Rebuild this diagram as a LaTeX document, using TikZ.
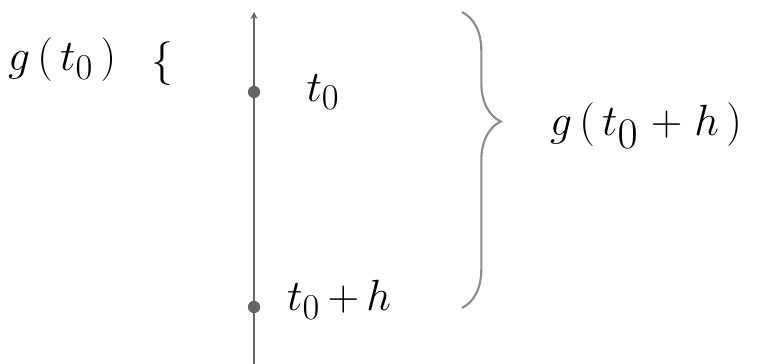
\documentclass[tikz,border=0pt]{standalone}
\usepackage{amsmath,amssymb}
\usepackage{xcolor}
\usepackage{tikz}
\usetikzlibrary{arrows, positioning, decorations.pathreplacing}
\tikzstyle{axis} = [draw=gray!80!black, thick, ->, >=stealth]
\tikzstyle{pt} = [circle, fill=gray!80!black, inner sep=0pt, minimum size=7pt]
\tikzstyle{lbl} = [font=\fontsize{30}{36}\selectfont, inner sep=1pt]
\tikzstyle{curly} = [draw=gray!90, very thick, decorate, decoration={brace, amplitude=22pt, aspect=0.37}]

\begin{document}
\begin{tikzpicture}[x=0.02cm, y=-0.02cm]
    \useasboundingbox (0,0) rectangle (778,364);
    \coordinate (bottom) at (254,364);
    \coordinate (top) at (254,12);
    \node (t0) [pt] at (254,92) {};
    \node (t0h) [pt] at (254,307) {};
    \draw [axis] (bottom) -- (top);
    \node (lt0) [lbl, right=25pt of t0] {$t_0$};
    \node (lt0h) [lbl, right=14pt of t0h, yshift=4pt] {$t_0\,{+}\,h$};
    \node (gleft) [lbl, anchor=west] at (6,60) {$g\,(\,t_0\,)$};
    \node (lbrace) [lbl, font=\fontsize{38}{40}\selectfont, right=18pt of gleft.east, anchor=west, yshift=-2pt] {$\{$};
    \coordinate (btop) at (462,12);
    \coordinate (bbot) at (462,308);
    \draw [curly] (btop) -- (bbot);
    \node (gright) [lbl, anchor=west, font=\fontsize{34}{40}\selectfont] at (548,126) {$g\,(\,t_0\;{+}\;h\,)$};
\end{tikzpicture}
\end{document}
